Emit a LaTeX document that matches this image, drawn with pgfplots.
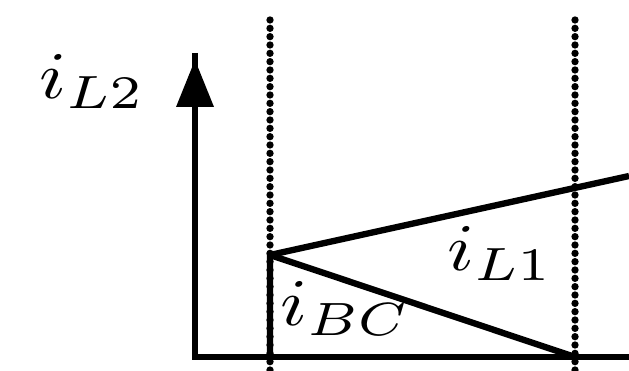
\documentclass[border=0pt]{standalone}
\usepackage{graphicx}
\usepackage{pgfplots}
\pgfplotsset{compat=1.18}
% current labels are set slightly wide
\newcommand{\wlabel}[1]{\scalebox{1.18}[1]{$#1$}}
\begin{document}
\begin{tikzpicture}
\begin{axis}[
  scale only axis,
  width=94.35pt, height=55.5pt,
  xmin=0, xmax=629, ymin=0, ymax=370,
  hide axis, clip=true,
]
% switching instants (dotted)
\addplot[black, line width=1.1pt, line cap=round, dash pattern=on 0pt off 1.25pt]
  coordinates {(270,0) (270,355)};
\addplot[black, line width=1.1pt, line cap=round, dash pattern=on 0pt off 1.25pt]
  coordinates {(575,0) (575,355)};
% axes
\addplot[black, line width=0.95pt] coordinates {(195,317) (195,13) (629,13)};
\addplot[black, fill=black, draw=none] coordinates {(176,263) (214,263) (195,310)} -- cycle;
% currents
\addplot[black, line width=0.95pt] coordinates {(270,13) (270,115) (629,194)};
\addplot[black, line width=0.95pt] coordinates {(270,115) (575,13)};
% labels
\node[anchor=base west, inner sep=0pt] at (axis cs:38,272) {\wlabel{i_{L2}}};
\node[anchor=base west, inner sep=0pt] at (axis cs:446,100) {\wlabel{i_{L1}}};
\node[anchor=base west, inner sep=0pt] at (axis cs:279,45) {\wlabel{i_{BC}}};
\end{axis}
\path (current axis.south west) rectangle (current axis.north east);
\end{tikzpicture}
\end{document}
